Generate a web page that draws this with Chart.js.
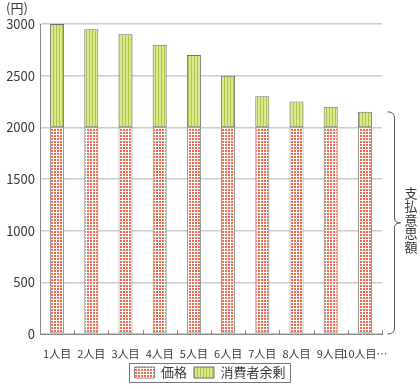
<!DOCTYPE html>
<html>
<head>
<meta charset="utf-8">
<script src="https://cdn.jsdelivr.net/npm/chart.js@4.4.1/dist/chart.umd.min.js"></script>
<style>
  html, body { margin: 0; padding: 0; background: #fff; }
  #wrap { width: 420px; height: 389px; }
</style>
</head>
<body>
<div id="wrap"><canvas id="c" width="420" height="389"></canvas></div>
<script>
const labels = ['1人目', '2人目', '3人目', '4人目', '5人目', '6人目', '7人目', '8人目', '9人目', '10人目…'];
const price = [2000, 2000, 2000, 2000, 2000, 2000, 2000, 2000, 2000, 2000];
const surplus = [1000, 950, 900, 800, 700, 500, 300, 250, 200, 150];
const yTicks = [0, 500, 1000, 1500, 2000, 2500, 3000];
const FONT = "'Noto Sans CJK JP', 'Noto Sans', sans-serif";
const TEXT = '#3a3a3a';

function makePattern(kind) {
    const t = document.createElement('canvas');
    const ctx = t.getContext('2d');
    t.width = 3; t.height = 3;
    if (kind === 'red') {
        ctx.fillStyle = '#ffffff';
        ctx.fillRect(0, 0, 3, 3);
        ctx.fillStyle = '#f06a4f';
        ctx.fillRect(0, 0, 2, 2);
    } else {
        ctx.fillStyle = '#dbe98c';
        ctx.fillRect(0, 0, 3, 3);
        ctx.fillStyle = '#a9c64a';
        ctx.fillRect(2, 0, 1, 3);
    }
    return document.getElementById('c').getContext('2d').createPattern(t, 'repeat');
}
const redPat = makePattern('red');
const greenPat = makePattern('green');

// extra bits: unit label, upward x ticks, brace + vertical text, legend frame
const extras = {
    id: 'extras',
    afterDraw(chart) {
        const ctx = chart.ctx;
        const y = chart.scales.y;
        const area = chart.chartArea;
        ctx.save();
        ctx.fillStyle = TEXT;
        ctx.font = '13px ' + FONT;
        ctx.textAlign = 'left';
        ctx.textBaseline = 'middle';
        ctx.fillText('(円)', 6, 8);

        // small upward ticks at category boundaries
        ctx.strokeStyle = '#888';
        ctx.lineWidth = 1;
        const step = (area.right - area.left) / labels.length;
        for (let i = 1; i <= labels.length; i++) {
            const px = Math.round(area.left + step * i) + 0.5;
            ctx.beginPath();
            ctx.moveTo(px, area.bottom);
            ctx.lineTo(px, area.bottom - 4);
            ctx.stroke();
        }

        // brace from 0 to last total
        const last = labels.length - 1;
        const top = y.getPixelForValue(price[last] + surplus[last]);
        const bot = y.getPixelForValue(0);
        const mid = (top + bot) / 2;
        const bx = 394.5;
        ctx.strokeStyle = '#555';
        ctx.beginPath();
        ctx.moveTo(bx - 7, top);
        ctx.quadraticCurveTo(bx, top, bx, top + 6);
        ctx.lineTo(bx, mid - 5);
        ctx.quadraticCurveTo(bx, mid, bx + 6, mid);
        ctx.quadraticCurveTo(bx, mid, bx, mid + 5);
        ctx.lineTo(bx, bot - 6);
        ctx.quadraticCurveTo(bx, bot, bx - 7, bot);
        ctx.stroke();

        ctx.fillStyle = TEXT;
        ctx.font = '13px ' + FONT;
        ctx.textAlign = 'center';
        const txt = '支払意思額';
        for (let i = 0; i < txt.length; i++) {
            ctx.fillText(txt[i], 411, mid - 30 + i * 13.5);
        }

        // legend frame
        const boxes = chart.legend.legendHitBoxes;
        if (boxes && boxes.length) {
            const l = Math.min(...boxes.map(b => b.left)) - 5;
            const r = Math.max(...boxes.map(b => b.left + b.width)) + 5;
            const t = Math.min(...boxes.map(b => b.top)) - 3;
            const b = Math.max(...boxes.map(b => b.top + b.height)) + 3;
            ctx.strokeStyle = '#777';
            ctx.strokeRect(Math.round(l) + 0.5, Math.round(t) + 0.5, Math.round(r - l), Math.round(b - t));
        }
        ctx.restore();
    }
};

new Chart(document.getElementById('c'), {
    type: 'bar',
    data: {
        labels: labels,
        datasets: [
            {
                label: '価格',
                data: price,
                backgroundColor: redPat,
                borderColor: '#8a8a8a',
                borderWidth: 1,
                borderSkipped: false
            },
            {
                label: '消費者余剰',
                data: surplus,
                backgroundColor: greenPat,
                borderColor: '#6e6e6e',
                borderWidth: 1,
                borderSkipped: false
            }
        ]
    },
    options: {
        responsive: false,
        animation: false,
        barPercentage: 0.5,
        categoryPercentage: 0.82,
        layout: { padding: { top: 24, right: 0, bottom: 0, left: 0 } },
        plugins: {
            tooltip: { enabled: false },
            legend: {
                position: 'bottom',
                labels: {
                    color: TEXT,
                    font: { family: FONT, size: 13 },
                    boxWidth: 20,
                    boxHeight: 11,
                    padding: 7
                }
            }
        },
        scales: {
            x: {
                stacked: true,
                grid: { display: false },
                border: { color: '#888', width: 1 },
                ticks: { color: TEXT, font: { family: FONT, size: 11 }, padding: 5, maxRotation: 0, autoSkip: false },
                afterFit(s) { s.height = 25; }
            },
            y: {
                stacked: true,
                min: 0,
                max: 3000,
                afterBuildTicks(s) { s.ticks = yTicks.map(v => ({ value: v })); },
                grid: { color: '#cccccc', lineWidth: 1.5, drawTicks: false },
                border: { color: '#888', width: 1 },
                ticks: { color: TEXT, font: { family: FONT, size: 13 }, padding: 5, callback: v => String(v) },
                afterFit(s) { s.width = 40; }
            },
            side: {
                position: 'right',
                display: true,
                min: 0,
                max: 3000,
                grid: { display: false },
                border: { display: false },
                ticks: { display: false },
                afterFit(s) { s.width = 38; }
            }
        }
    },
    plugins: [extras]
});
</script>
</body>
</html>
